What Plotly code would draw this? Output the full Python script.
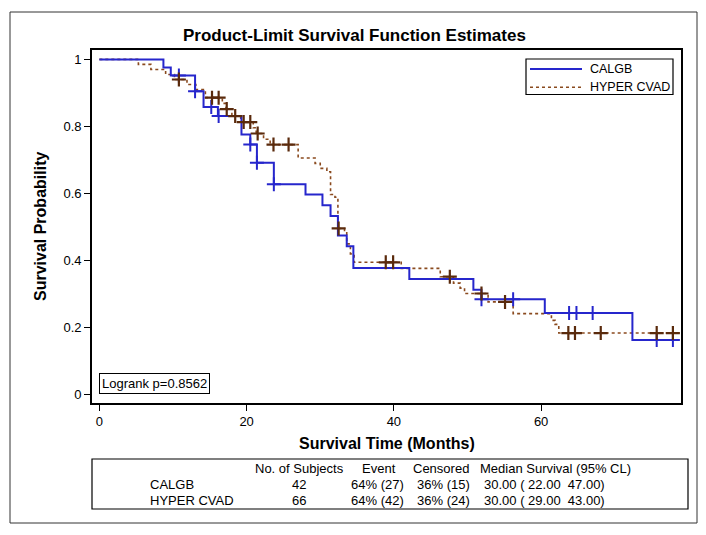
import plotly.graph_objects as go

# ---------------- data ----------------
calgb_t = [0, 8.7, 9.7, 13.0, 14.15, 16.1, 19.3, 20.5, 21.4, 23.7, 28.0, 30.3, 31.4,
           32.4, 33.6, 34.5, 42.1, 50.8, 51.9, 60.5, 72.4, 78.0]
calgb_s = [1.0, 0.976, 0.952, 0.905, 0.858, 0.831, 0.776, 0.746, 0.692, 0.628, 0.597,
           0.565, 0.533, 0.475, 0.443, 0.378, 0.345, 0.313, 0.285, 0.244, 0.163, 0.163]
calgb_cens_t = [10.8, 13.0, 15.2, 16.2, 20.5, 21.4, 23.7, 51.9, 56.2, 63.8, 64.8, 67.0, 75.7, 77.9]
calgb_cens_s = [0.952, 0.905, 0.858, 0.831, 0.746, 0.692, 0.628, 0.285, 0.285, 0.244,
                0.244, 0.244, 0.163, 0.163]

hyper_t = [0, 5.3, 7.0, 9.0, 10.2, 11.9, 13.1, 14.4, 16.7, 17.2, 18.0, 19.2, 20.9, 21.3,
           22.3, 23.2, 27.0, 29.3, 30.0, 30.9, 31.4, 32.0, 32.4, 33.3, 33.6, 34.1, 34.6,
           41.0, 46.3, 48.1, 49.0, 49.6, 52.8, 56.2, 61.4, 61.9, 62.4, 78.0]
hyper_s = [1.0, 0.985, 0.970, 0.955, 0.940, 0.925, 0.910, 0.886, 0.869, 0.852, 0.831,
           0.813, 0.796, 0.779, 0.762, 0.746, 0.706, 0.690, 0.675, 0.665, 0.597, 0.589,
           0.496, 0.490, 0.450, 0.420, 0.395, 0.377, 0.352, 0.333, 0.318, 0.302, 0.277,
           0.242, 0.222, 0.210, 0.184, 0.184]
hyper_cens_t = [10.8, 15.3, 16.2, 17.3, 18.45, 19.6, 20.5, 21.5, 23.65, 25.7, 32.5, 38.9,
                39.9, 47.6, 51.9, 55.1, 63.7, 64.6, 68.1, 75.7, 77.9]
hyper_cens_s = [0.940, 0.886, 0.886, 0.852, 0.831, 0.813, 0.813, 0.779, 0.746, 0.746,
                0.496, 0.395, 0.395, 0.352, 0.302, 0.277, 0.184, 0.184, 0.184, 0.184, 0.184]

group_names = ["CALGB", "HYPER CVAD"]
x_ticks = [0, 20, 40, 60]
y_ticks = [0, 0.2, 0.4, 0.6, 0.8, 1.0]
y_tick_labels = ["0", "0.2", "0.4", "0.6", "0.8", "1"]

table_header = ["No. of Subjects", "Event", "Censored", "Median Survival (95% CL)"]
n_subjects = ["42", "66"]
events = ["64% (27)", "64% (42)"]
censored = ["36% (15)", "36% (24)"]
median_ci = ["30.00 ( 22.00  47.00)", "30.00 ( 29.00  43.00)"]
logrank_text = "Logrank p=0.8562"

# ---------------- styling / layout ----------------
BLUE = "#2626CC"
BROWN_LINE = "#8A4A1E"
BROWN_MARK = "#5A2A0C"
FONT = "Liberation Sans, Arial, sans-serif"

OFF = 8                      # page body margin of the browser
W, H = 706 - OFF, 535 - OFF  # figure size
# plot area in screen pixels (reference coordinates)
PL, PR, PT, PB = 92, 681, 50, 403


def px(x):
    return (x - PL) / (PR - PL)


def py(y):
    return (PB - y) / (PB - PT)


fig = go.Figure()

fig.add_trace(go.Scatter(x=hyper_t, y=hyper_s, mode="lines", line_shape="hv",
                         line=dict(color=BROWN_LINE, width=1.6, dash="dot"),
                         name=group_names[1], showlegend=False, hoverinfo="skip"))
fig.add_trace(go.Scatter(x=calgb_t, y=calgb_s, mode="lines", line_shape="hv",
                         line=dict(color=BLUE, width=2),
                         name=group_names[0], showlegend=False, hoverinfo="skip"))
fig.add_trace(go.Scatter(x=calgb_cens_t, y=calgb_cens_s, mode="markers",
                         marker=dict(symbol="cross-thin", size=10,
                                     line=dict(color=BLUE, width=2)),
                         showlegend=False, hoverinfo="skip"))
fig.add_trace(go.Scatter(x=hyper_cens_t, y=hyper_cens_s, mode="markers",
                         marker=dict(symbol="cross-thin", size=10,
                                     line=dict(color=BROWN_MARK, width=2.2)),
                         showlegend=False, hoverinfo="skip"))

axis_common = dict(showgrid=False, zeroline=False, showline=True, linecolor="black",
                   linewidth=1.6, mirror=True, ticks="outside", ticklen=6,
                   tickwidth=1.2, tickcolor="black",
                   tickfont=dict(family=FONT, size=13, color="black"))

fig.update_xaxes(range=[-1.0, 79.0], tickvals=x_ticks,
                 ticktext=[str(v) for v in x_ticks], **axis_common)
fig.update_yaxes(range=[-0.0245, 1.028], tickvals=y_ticks, ticktext=y_tick_labels,
                 **axis_common)

shapes = []
annotations = []

# outer frame
shapes.append(dict(type="rect", xref="paper", yref="paper",
                   x0=px(10), x1=px(697), y0=py(523), y1=py(12),
                   line=dict(color="#333333", width=1)))

# legend box
shapes.append(dict(type="rect", xref="paper", yref="paper",
                   x0=px(526), x1=px(673), y0=py(94.5), y1=py(59),
                   line=dict(color="black", width=1.2), fillcolor="white", layer="above"))
shapes.append(dict(type="line", xref="paper", yref="paper",
                   x0=px(530), x1=px(582), y0=py(69), y1=py(69),
                   line=dict(color=BLUE, width=2)))
shapes.append(dict(type="line", xref="paper", yref="paper",
                   x0=px(530), x1=px(582), y0=py(87.3), y1=py(87.3),
                   line=dict(color=BROWN_LINE, width=1.6, dash="dot")))
for name, yy in zip(group_names, [69, 87.3]):
    annotations.append(dict(text=name, xref="paper", yref="paper", x=px(588),
                            y=py(yy), xanchor="left", yanchor="middle", showarrow=False,
                            font=dict(family=FONT, size=12.5, color="black")))

# logrank box
annotations.append(dict(text=logrank_text, xref="paper", yref="paper", x=px(99),
                        y=py(393.5), xanchor="left", yanchor="bottom", showarrow=False,
                        bordercolor="black", borderwidth=1, borderpad=2, bgcolor="white",
                        font=dict(family=FONT, size=13, color="black")))

# titles
annotations.append(dict(text="Product-Limit Survival Function Estimates", xref="paper",
                        yref="paper", x=px(354), y=py(36), xanchor="center",
                        yanchor="middle", showarrow=False,
                        font=dict(family=FONT, size=17, color="black", weight="bold")))
annotations.append(dict(text="Survival Probability", xref="paper", yref="paper",
                        x=px(40), y=py(227), xanchor="center", yanchor="middle",
                        textangle=-90, showarrow=False,
                        font=dict(family=FONT, size=16, color="black", weight="bold")))
annotations.append(dict(text="Survival Time (Months)", xref="paper", yref="paper",
                        x=px(387), y=py(443), xanchor="center", yanchor="middle",
                        showarrow=False,
                        font=dict(family=FONT, size=16, color="black", weight="bold")))

# summary table
shapes.append(dict(type="rect", xref="paper", yref="paper",
                   x0=px(92), x1=px(688), y0=py(509), y1=py(459),
                   line=dict(color="black", width=1.2)))

tfont = dict(family=FONT, size=13, color="black")
row_y = [468, 484, 500]
col_center = [299, 379, 441]


def cell(text, x, y, anchor):
    annotations.append(dict(text=text, xref="paper", yref="paper", x=px(x), y=py(y),
                            xanchor=anchor, yanchor="middle", showarrow=False, font=tfont))


for txt, cx in zip(table_header[:3], col_center):
    cell(txt, cx, row_y[0], "center")
cell(table_header[3], 478, row_y[0], "left")
for i in range(2):
    yy = row_y[i + 1]
    cell(group_names[i], 148, yy, "left")
    cell(n_subjects[i], col_center[0], yy, "center")
    cell(events[i], 377, yy, "center")
    cell(censored[i], 443, yy, "center")
    cell(median_ci[i], 482, yy, "left")

fig.update_layout(width=W, height=H,
                  margin=dict(l=PL - OFF, r=(W + OFF) - PR, t=PT - OFF, b=(H + OFF) - PB),
                  paper_bgcolor="white", plot_bgcolor="white", showlegend=False,
                  shapes=shapes, annotations=annotations,
                  font=dict(family=FONT, color="black"))

fig.write_html("out.html")
